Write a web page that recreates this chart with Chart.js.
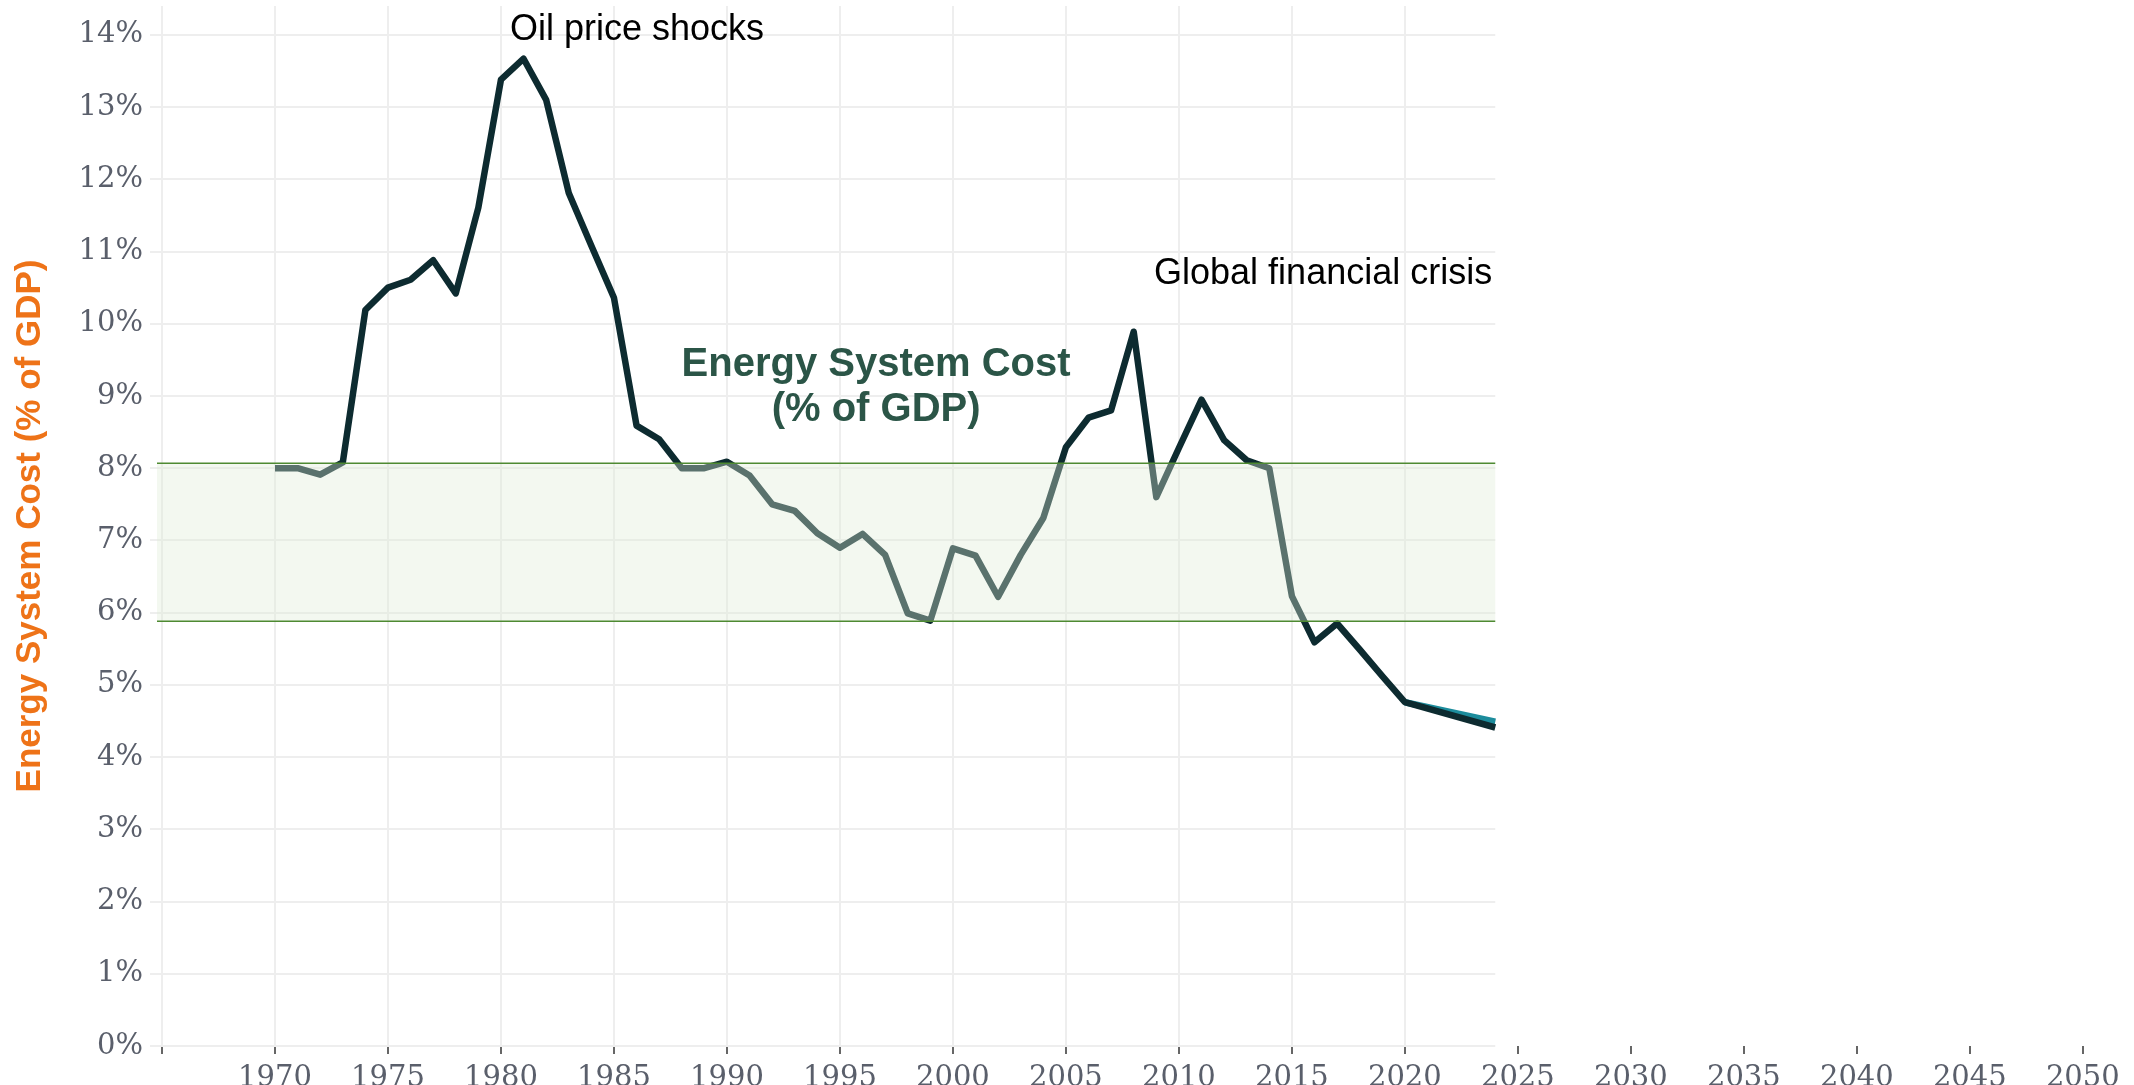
<!DOCTYPE html>
<html>
<head>
<meta charset="utf-8">
<script src="https://cdn.jsdelivr.net/npm/chart.js@4"></script>
<style>
  html, body { margin: 0; padding: 0; background: #ffffff; }
  #wrap { width: 2134px; height: 1085px; position: relative; }
</style>
</head>
<body>
<div id="wrap"><canvas id="chart-cost"></canvas></div>
<script>
const years = [
  1970, 1971, 1972, 1973, 1974, 1975, 1976, 1977, 1978, 1979,
  1980, 1981, 1982, 1983, 1984, 1985, 1986, 1987, 1988, 1989,
  1990, 1991, 1992, 1993, 1994, 1995, 1996, 1997, 1998, 1999,
  2000, 2001, 2002, 2003, 2004, 2005, 2006, 2007, 2008, 2009,
  2010, 2011, 2012, 2013, 2014, 2015, 2016, 2017, 2018, 2019,
  2020, 2024,
];
const costShare = [
  8.00, 8.00, 7.91, 8.08, 10.19, 10.50, 10.61, 10.88, 10.42, 11.61,
  13.38, 13.67, 13.10, 11.81, 11.08, 10.36, 8.59, 8.40, 8.00, 8.00,
  8.09, 7.90, 7.50, 7.41, 7.10, 6.90, 7.09, 6.80, 5.99, 5.89,
  6.89, 6.79, 6.22, 6.80, 7.31, 8.29, 8.70, 8.80, 9.89, 7.60,
  8.28, 8.95, 8.39, 8.11, 8.00, 6.23, 5.59, 5.85, 5.49, 5.12,
  4.76, 4.41,
];
const projectionYears = [2020, 2024];
const projectionShare = [4.76, 4.49];

// historical range band (% of GDP)
const bandLow = 5.88;
const bandHigh = 8.07;
const dataEndYear = 2024;

const annotations = [
  { text: 'Oil price shocks', year: 1980.4, value: 14.07, align: 'left', bold: false },
  { text: 'Global financial crisis', year: 2008.9, value: 10.69, align: 'left', bold: false },
  { text: 'Energy System Cost', year: 1996.6, value: 9.43, align: 'center', bold: true },
  { text: '(% of GDP)', year: 1996.6, value: 8.80, align: 'center', bold: true },
];

const tickFont = { family: 'Georgia, "DejaVu Serif", serif', size: 29 };
const tickColor = '#5a5f6b';
const gridColor = '#eeeeee';

const toPoints = (xs, ys) => xs.map((x, i) => ({ x: x, y: ys[i] }));

const gridPlugin = {
  id: 'partialGrid',
  beforeDatasetsDraw: (chart) => {
    const { ctx, chartArea, scales } = chart;
    const right = scales.x.getPixelForValue(dataEndYear);
    ctx.save();
    ctx.strokeStyle = gridColor;
    ctx.lineWidth = 2;
    scales.y.ticks.forEach((tick) => {
      const y = Math.round(scales.y.getPixelForValue(tick.value));
      ctx.beginPath();
      ctx.moveTo(chartArea.left, y);
      ctx.lineTo(right, y);
      ctx.stroke();
    });
    ctx.restore();
  },
};

const bandPlugin = {
  id: 'rangeBand',
  afterDatasetsDraw: (chart) => {
    const { ctx, chartArea, scales } = chart;
    const left = chartArea.left - 5;
    const right = scales.x.getPixelForValue(dataEndYear);
    const top = scales.y.getPixelForValue(bandHigh);
    const bottom = scales.y.getPixelForValue(bandLow);
    ctx.save();
    ctx.fillStyle = 'rgba(222, 236, 214, 0.37)';
    ctx.fillRect(left, top, right - left, bottom - top);
    ctx.strokeStyle = '#4e8a32';
    ctx.lineWidth = 1.5;
    [top, bottom].forEach((y) => {
      ctx.beginPath();
      ctx.moveTo(left, y);
      ctx.lineTo(right, y);
      ctx.stroke();
    });

    annotations.forEach((note) => {
      ctx.font = (note.bold ? 'bold 40px' : '36px') + ' "Liberation Sans", Arial, sans-serif';
      ctx.fillStyle = note.bold ? '#2b5547' : '#000000';
      ctx.textAlign = note.align;
      ctx.textBaseline = 'middle';
      ctx.fillText(note.text, scales.x.getPixelForValue(note.year), scales.y.getPixelForValue(note.value));
    });
    ctx.restore();
  },
};

const initializeCostChart = () => {
  new Chart(document.querySelector('#chart-cost'), {
    type: 'line',
    data: {
      datasets: [
        {
          label: 'Energy System Cost',
          data: toPoints(years, costShare),
          borderColor: '#0d2b30',
          borderWidth: 6.5,
          order: 1,
        },
        {
          label: 'Projection',
          data: toPoints(projectionYears, projectionShare),
          borderColor: '#1c8c9c',
          borderWidth: 6.5,
          order: 2,
        },
      ],
    },
    options: {
      responsive: true,
      maintainAspectRatio: false,
      animation: false,
      devicePixelRatio: 1,
      layout: {
        padding: { top: 6, right: 6, left: 0, bottom: 0 },
      },
      elements: {
        line: { tension: 0, borderJoinStyle: 'round', borderCapStyle: 'butt' },
        point: { radius: 0 },
      },
      plugins: {
        legend: { display: false },
        tooltip: { enabled: false },
      },
      scales: {
        x: {
          type: 'linear',
          min: 1965,
          max: 2052,
          afterBuildTicks: (scale) => {
            scale.ticks = scale.ticks.filter((tick) => tick.value % 5 === 0);
          },
          afterFit: (scale) => {
            scale.height = 39;
            scale.paddingLeft = 0;
            scale.paddingRight = 0;
          },
          border: { display: false },
          grid: {
            color: (context) => (context.tick && context.tick.value <= 2020 ? gridColor : 'rgba(0,0,0,0)'),
            lineWidth: 2,
            tickColor: '#666666',
            tickLength: 8,
            tickWidth: 2,
          },
          ticks: {
            stepSize: 5,
            includeBounds: false,
            padding: 7,
            maxRotation: 0,
            autoSkip: false,
            color: tickColor,
            font: tickFont,
            callback: (value) => (value === 1965 ? '' : String(value)),
          },
        },
        y: {
          min: 0,
          max: 14.4,
          afterBuildTicks: (scale) => {
            scale.ticks = scale.ticks.filter((tick) => Number.isInteger(tick.value));
          },
          afterFit: (scale) => {
            scale.width = 162;
            scale.paddingTop = 0;
            scale.paddingBottom = 0;
          },
          border: { display: false },
          grid: {
            drawOnChartArea: false,
            color: gridColor,
            lineWidth: 2,
            tickLength: 12,
          },
          ticks: {
            stepSize: 1,
            includeBounds: false,
            padding: 7,
            color: tickColor,
            font: tickFont,
            callback: (value) => value + '%',
          },
          title: {
            display: true,
            text: 'Energy System Cost (% of GDP)',
            color: '#ee7318',
            font: { family: '"Liberation Sans", Arial, sans-serif', size: 35, weight: 'bold' },
            padding: { top: 9, bottom: 0 },
          },
        },
      },
    },
    plugins: [gridPlugin, bandPlugin],
  });
};

document.addEventListener('DOMContentLoaded', initializeCostChart);
</script>
</body>
</html>
